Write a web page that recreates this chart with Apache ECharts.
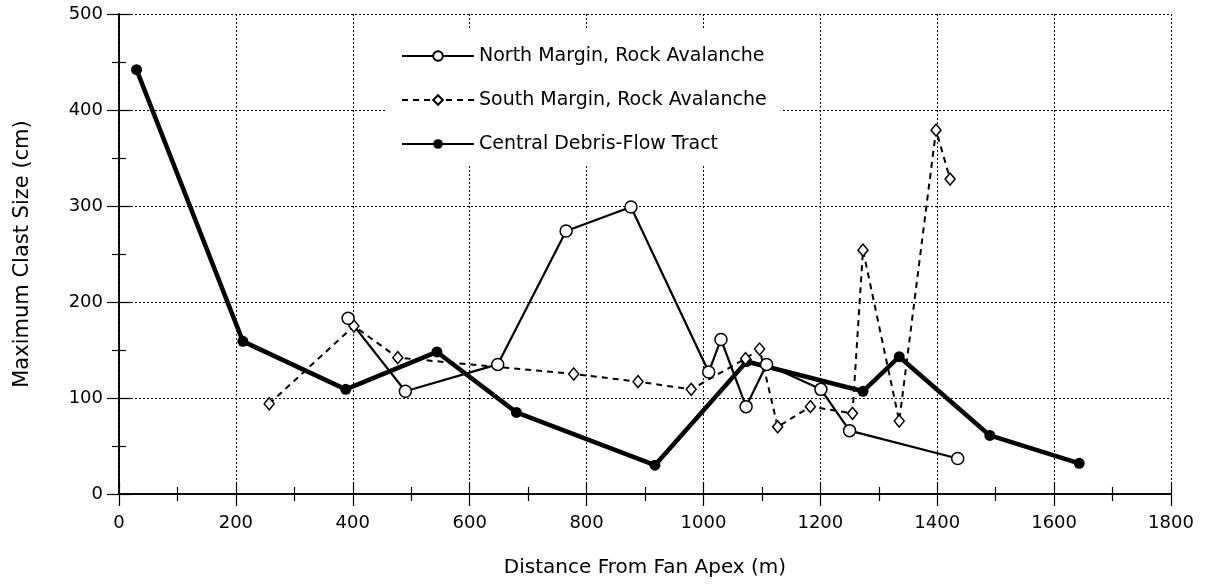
<!DOCTYPE html>
<html>
<head>
<meta charset="utf-8">
<script src="https://cdn.jsdelivr.net/npm/echarts@6/dist/echarts.min.js"></script>
<style>
  html, body { margin: 0; padding: 0; background: #fff; }
  #chart { width: 1211px; height: 588px; }
</style>
</head>
<body>
<div id="chart"></div>
<script>
  // distances (m) and max clast sizes (cm)
  var northX = [392, 490, 648, 765, 876, 1009, 1030, 1073, 1108, 1201, 1250, 1435];
  var northY = [183, 107, 135, 274, 299, 127, 161, 91, 135, 109, 66, 37];

  var southX = [257, 402, 477, 778, 888, 979, 1072, 1096, 1127, 1183, 1255, 1273, 1335, 1398, 1422];
  var southY = [94, 175, 142, 125, 117, 109, 141, 151, 70, 91, 84, 254, 76, 379, 328];

  var centralX = [30, 212, 388, 544, 680, 917, 1074, 1273, 1335, 1490, 1643];
  var centralY = [442, 159, 109, 148, 85, 30, 138, 107, 143, 61, 32];

  var names = ['North Margin, Rock Avalanche', 'South Margin, Rock Avalanche', 'Central Debris-Flow Tract'];

  function pairs(xs, ys) {
    return xs.map(function (x, i) { return [x, ys[i]]; });
  }

  var font = 'DejaVu Sans';
  var chart = echarts.init(document.getElementById('chart'));

  // each axis gets its own copies, ticks all point into the plot
  function ticks() {
    return { show: true, inside: true, length: 12, lineStyle: { color: '#000', width: 1.2 } };
  }
  function minor() {
    return { show: true, splitNumber: 2, length: 7, lineStyle: { color: '#000', width: 1.2 } };
  }
  function frame() {
    return { show: true, lineStyle: { color: '#000', width: 1.5 } };
  }
  function dots() {
    return { show: true, lineStyle: { color: '#000', width: 1, type: [2, 2] } };
  }
  function plain(v) { return String(v); }

  chart.setOption({
    backgroundColor: '#fff',
    animation: false,
    grid: { left: 119, right: 40, top: 14, bottom: 94 },
    legend: {
      orient: 'vertical',
      left: 387,
      top: 28,
      padding: [18, 14, 11, 14],
      backgroundColor: '#fff',
      itemWidth: 72,
      itemHeight: 12,
      itemGap: 24,
      data: names,
      textStyle: { fontFamily: font, fontSize: 19, color: '#000', lineHeight: 20 }
    },
    xAxis: [{
      type: 'value', min: 0, max: 1800, interval: 200, position: 'bottom',
      name: 'Distance From Fan Apex (m)', nameLocation: 'middle', nameGap: 64,
      nameTextStyle: { fontFamily: font, fontSize: 20, color: '#000' },
      axisLine: frame(), axisTick: ticks(), minorTick: minor(),
      axisLabel: { margin: 20, fontFamily: font, fontSize: 18, color: '#000', formatter: plain },
      splitLine: dots()
    }, {
      type: 'value', min: 0, max: 1800, interval: 200, position: 'top',
      axisLine: frame(), axisTick: ticks(), minorTick: minor(),
      axisLabel: { show: false }, splitLine: { show: false }
    }],
    yAxis: [{
      type: 'value', min: 0, max: 500, interval: 100, position: 'left',
      name: 'Maximum Clast Size (cm)', nameLocation: 'middle', nameGap: 86,
      nameTextStyle: { fontFamily: font, fontSize: 21, color: '#000' },
      axisLine: frame(), axisTick: ticks(), minorTick: minor(),
      axisLabel: { margin: 16, fontFamily: font, fontSize: 18, color: '#000', formatter: plain },
      splitLine: dots()
    }, {
      type: 'value', min: 0, max: 500, interval: 100, position: 'right',
      axisLine: frame(), axisTick: ticks(), minorTick: minor(),
      axisLabel: { show: false }, splitLine: { show: false }
    }],
    series: [
      {
        name: names[2], type: 'line', data: pairs(centralX, centralY),
        symbol: 'circle', symbolSize: 11, color: '#000',
        lineStyle: { color: '#000', width: 4.5 },
        itemStyle: { color: '#000' }
      },
      {
        name: names[1], type: 'line', data: pairs(southX, southY),
        symbol: 'diamond', symbolSize: [10, 12], color: '#000',
        lineStyle: { color: '#000', width: 2, type: [6, 5] },
        itemStyle: { color: '#fff', borderColor: '#000', borderWidth: 1.5 }
      },
      {
        name: names[0], type: 'line', data: pairs(northX, northY),
        symbol: 'circle', symbolSize: 12, color: '#000',
        lineStyle: { color: '#000', width: 2.2 },
        itemStyle: { color: '#fff', borderColor: '#000', borderWidth: 1.5 }
      }
    ]
  });
</script>
</body>
</html>
